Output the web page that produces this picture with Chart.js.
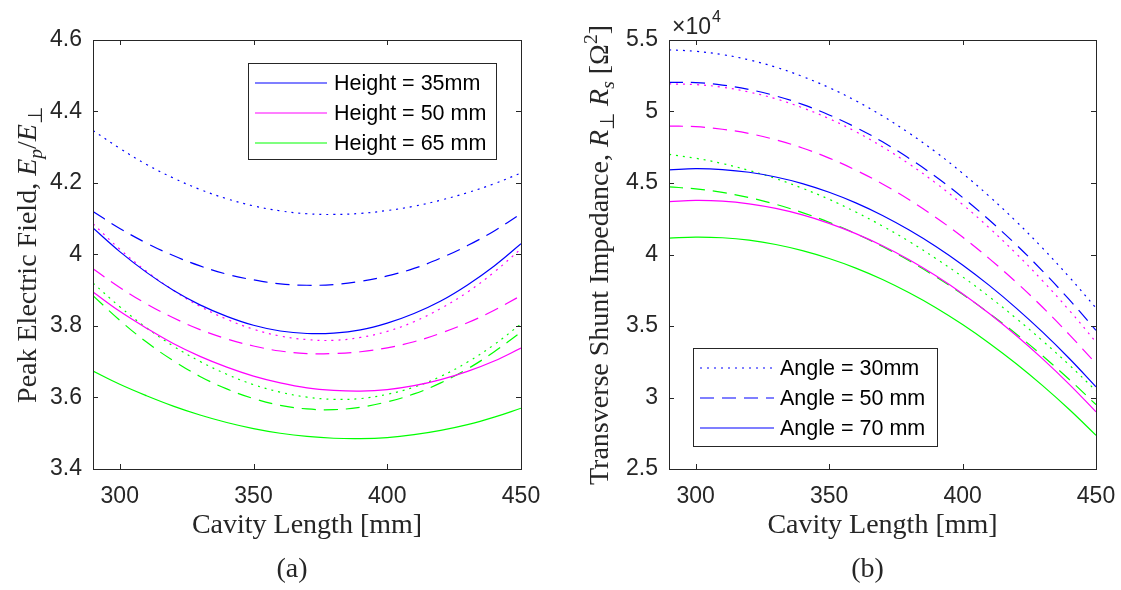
<!DOCTYPE html>
<html>
<head>
<meta charset="utf-8">
<script src="https://cdn.jsdelivr.net/npm/chart.js@4.4.1/dist/chart.umd.min.js"></script>
<style>
  html, body { margin: 0; padding: 0; background: #fff; }
  #wrap { position: relative; width: 1121px; height: 590px; overflow: hidden; }
  canvas { position: absolute; top: 0; }
  #chartA { left: 0; }
  #chartB { left: 560px; }
</style>
</head>
<body>
<div id="wrap">
  <canvas id="chartA" width="560" height="590"></canvas>
  <canvas id="chartB" width="600" height="590"></canvas>
</div>
<script>
const cavityLength = [290, 300, 310, 320, 330, 340, 350, 360, 370, 380, 390, 400, 410, 420, 430, 440, 450];
const lengthTicks = [300, 350, 400, 450];

// (a) peak electric field ratio Ep/E_perp
const fieldH35A30 = [4.347, 4.297, 4.252, 4.214, 4.182, 4.156, 4.136, 4.122, 4.114, 4.112, 4.115, 4.123, 4.135, 4.152, 4.173, 4.198, 4.228];
const fieldH35A50 = [4.120, 4.073, 4.032, 3.997, 3.968, 3.945, 3.929, 3.918, 3.914, 3.916, 3.925, 3.940, 3.961, 3.990, 4.025, 4.066, 4.114];
const fieldH35A70 = [4.074, 4.008, 3.950, 3.900, 3.859, 3.827, 3.802, 3.786, 3.779, 3.780, 3.789, 3.808, 3.835, 3.870, 3.915, 3.968, 4.030];
const fieldH50A30 = [4.086, 4.015, 3.953, 3.900, 3.855, 3.819, 3.791, 3.772, 3.762, 3.760, 3.768, 3.785, 3.812, 3.849, 3.895, 3.951, 4.016];
const fieldH50A50 = [3.960, 3.908, 3.862, 3.823, 3.790, 3.764, 3.744, 3.730, 3.723, 3.723, 3.728, 3.739, 3.756, 3.780, 3.809, 3.844, 3.885];
const fieldH50A70 = [3.895, 3.841, 3.794, 3.751, 3.715, 3.685, 3.660, 3.641, 3.627, 3.620, 3.618, 3.622, 3.633, 3.650, 3.673, 3.702, 3.738];
const fieldH65A30 = [3.920, 3.854, 3.795, 3.744, 3.701, 3.665, 3.636, 3.615, 3.601, 3.595, 3.597, 3.609, 3.629, 3.659, 3.699, 3.748, 3.806];
const fieldH65A50 = [3.885, 3.816, 3.755, 3.703, 3.659, 3.624, 3.597, 3.578, 3.568, 3.566, 3.573, 3.588, 3.610, 3.641, 3.680, 3.728, 3.783];
const fieldH65A70 = [3.674, 3.637, 3.605, 3.576, 3.551, 3.530, 3.513, 3.500, 3.491, 3.486, 3.485, 3.488, 3.496, 3.508, 3.524, 3.545, 3.570];
const fieldTicks = [3.4, 3.6, 3.8, 4, 4.2, 4.4, 4.6];

// (b) transverse shunt impedance R_perp*Rs in Ohm^2
const shuntH35A30 = [54310, 54210, 53980, 53610, 53100, 52450, 51670, 50750, 49690, 48490, 47160, 45680, 44070, 42330, 40440, 38420, 36260];
const shuntH35A50 = [52040, 52020, 51850, 51540, 51090, 50500, 49760, 48890, 47880, 46720, 45430, 43990, 42410, 40700, 38840, 36840, 34700];
const shuntH35A70 = [45920, 46000, 45940, 45750, 45420, 44960, 44350, 43610, 42730, 41710, 40560, 39270, 37840, 36270, 34570, 32730, 30750];
const shuntH50A30 = [51930, 51880, 51700, 51360, 50890, 50260, 49500, 48590, 47530, 46330, 44990, 43500, 41860, 40080, 38160, 36090, 33880];
const shuntH50A50 = [48980, 48940, 48760, 48460, 48020, 47450, 46740, 45900, 44930, 43830, 42590, 41220, 39710, 38080, 36310, 34400, 32370];
const shuntH50A70 = [43700, 43780, 43730, 43540, 43220, 42770, 42180, 41460, 40610, 39630, 38510, 37260, 35870, 34350, 32700, 30920, 29000];
const shuntH65A30 = [47000, 46730, 46360, 45880, 45310, 44630, 43860, 42970, 41990, 40910, 39720, 38440, 37050, 35550, 33960, 32270, 30470];
const shuntH65A50 = [44730, 44590, 44340, 43980, 43510, 42930, 42250, 41460, 40560, 39560, 38440, 37220, 35890, 34460, 32910, 31260, 29500];
const shuntH65A70 = [41140, 41220, 41170, 41000, 40700, 40270, 39720, 39050, 38250, 37320, 36280, 35100, 33800, 32380, 30830, 29160, 27360];
const shuntTicks = [25000, 30000, 35000, 40000, 45000, 50000, 55000];

const heightLabels = ['Height = 35mm', 'Height = 50 mm', 'Height = 65 mm'];
const angleLabels = ['Angle = 30mm', 'Angle = 50 mm', 'Angle = 70 mm'];

const lineColors = ['#0000ff', '#ff00ff', '#00ff00'];   // one per height
const lineDashes = [[2, 5], [14, 8], []];              // dotted, dashed, solid per angle
const AXIS = '#262626';
const SANS = '"Liberation Sans", Arial, sans-serif';
const SERIF = '"Liberation Serif", "Times New Roman", serif';

const fieldSeries = [
  [fieldH35A30, fieldH35A50, fieldH35A70],
  [fieldH50A30, fieldH50A50, fieldH50A70],
  [fieldH65A30, fieldH65A50, fieldH65A70]
];
const shuntSeries = [
  [shuntH35A30, shuntH35A50, shuntH35A70],
  [shuntH50A30, shuntH50A50, shuntH50A70],
  [shuntH65A30, shuntH65A50, shuntH65A70]
];

function buildDatasets(series) {
  const sets = [];
  series.forEach((byAngle, h) => {
    byAngle.forEach((values, a) => {
      sets.push({
        data: cavityLength.map((x, i) => ({ x: x, y: values[i] })),
        borderColor: lineColors[h],
        borderDash: lineDashes[a],
        borderWidth: 1.2,
        pointRadius: 0,
        tension: 0.4,
        fill: false
      });
    });
  });
  return sets;
}

function partFont(p, size) {
  const s = (p.sub || p.sup) ? size * 0.7 : size;
  return (p.i ? 'italic ' : '') + s + 'px ' + SERIF;
}

// mixed roman / italic / sub / superscript text, centred on (cx, baseline cy)
function drawRich(ctx, parts, size, cx, cy, rotate) {
  ctx.save();
  ctx.translate(cx, cy);
  if (rotate) ctx.rotate(-Math.PI / 2);
  ctx.fillStyle = AXIS;
  ctx.textAlign = 'left';
  ctx.textBaseline = 'alphabetic';
  let w = 0;
  parts.forEach(p => { ctx.font = partFont(p, size); w += ctx.measureText(p.t).width; });
  let x = -w / 2;
  parts.forEach(p => {
    ctx.font = partFont(p, size);
    const dy = p.sub ? size * 0.22 : (p.sup ? -size * 0.4 : 0);
    ctx.fillText(p.t, x, dy);
    x += ctx.measureText(p.t).width;
  });
  ctx.restore();
}

function decorPlugin(cfg) {
  return {
    id: 'decor',
    afterDraw(chart) {
      const ctx = chart.ctx;
      const a = chart.chartArea;
      const xs = chart.scales.x;
      const ys = chart.scales.y;
      ctx.save();

      // axes box with inward ticks on all sides
      ctx.strokeStyle = AXIS;
      ctx.lineWidth = 1;
      ctx.beginPath();
      lengthTicks.forEach(v => {
        const px = Math.round(xs.getPixelForValue(v)) + 0.5;
        ctx.moveTo(px, a.bottom); ctx.lineTo(px, a.bottom - 5);
        ctx.moveTo(px, a.top); ctx.lineTo(px, a.top + 5);
      });
      cfg.yTicks.forEach(v => {
        const py = Math.round(ys.getPixelForValue(v)) + 0.5;
        ctx.moveTo(a.left, py); ctx.lineTo(a.left + 5, py);
        ctx.moveTo(a.right, py); ctx.lineTo(a.right - 5, py);
      });
      ctx.stroke();
      ctx.strokeRect(Math.round(a.left) + 0.5, Math.round(a.top) + 0.5,
        Math.round(a.right - a.left), Math.round(a.bottom - a.top));

      // legend box
      const L = cfg.legend;
      const bx = a.left + L.dx, by = a.top + L.dy;
      ctx.fillStyle = '#fff';
      ctx.fillRect(bx, by, L.w, L.h);
      ctx.strokeRect(Math.round(bx) + 0.5, Math.round(by) + 0.5, L.w, L.h);
      L.labels.forEach((txt, i) => {
        const ry = by + 20 + i * 30;
        ctx.beginPath();
        ctx.strokeStyle = L.colors[i];
        ctx.lineWidth = 1.2;
        ctx.setLineDash(L.dashes[i]);
        ctx.moveTo(bx + 7, ry);
        ctx.lineTo(bx + L.lineEnd, ry);
        ctx.stroke();
        ctx.setLineDash([]);
        ctx.fillStyle = '#000';
        ctx.font = '21.5px ' + SANS;
        ctx.textAlign = 'left';
        ctx.textBaseline = 'middle';
        ctx.fillText(txt, bx + L.textX, ry + 1);
      });
      ctx.strokeStyle = AXIS;

      // axis titles and panel caption
      const mid = (a.left + a.right) / 2;
      drawRich(ctx, [{ t: 'Cavity Length [mm]' }], 28, mid, 533, false);
      drawRich(ctx, [{ t: cfg.caption }], 28, mid - 15, 577, false);
      drawRich(ctx, cfg.yTitle, 28, cfg.yTitleX, 255, true);

      if (cfg.exponent) {
        ctx.fillStyle = AXIS;
        ctx.textAlign = 'left';
        ctx.textBaseline = 'alphabetic';
        ctx.font = '23px ' + SANS;
        ctx.fillText('\u00d710', a.left + 3, 34);
        const w = ctx.measureText('\u00d710').width;
        ctx.font = '16px ' + SANS;
        ctx.fillText('4', a.left + 3 + w + 1, 22);
      }
      ctx.restore();
    }
  };
}

function makeChart(id, series, yMin, yMax, yTicks, yWidth, rightPad, tickLabel, cfg) {
  const font = { family: SANS, size: 23 };
  return new Chart(document.getElementById(id), {
    type: 'line',
    data: { datasets: buildDatasets(series) },
    options: {
      responsive: false,
      animation: false,
      events: [],
      layout: { padding: { left: 0, top: 40, right: rightPad, bottom: 81 } },
      plugins: { legend: { display: false }, tooltip: { enabled: false } },
      scales: {
        x: {
          type: 'linear', min: 290, max: 450,
          afterBuildTicks: s => { s.ticks = lengthTicks.map(v => ({ value: v })); },
          afterFit: s => { s.height = 40; },
          grid: { display: false, drawTicks: false },
          border: { display: false },
          ticks: { font: font, color: AXIS, padding: 14, maxRotation: 0, autoSkip: false,
                   callback: v => String(v) }
        },
        y: {
          type: 'linear', min: yMin, max: yMax,
          afterBuildTicks: s => { s.ticks = yTicks.map(v => ({ value: v })); },
          afterFit: s => { s.width = yWidth; },
          grid: { display: false, drawTicks: false },
          border: { display: false },
          ticks: { font: font, color: AXIS, padding: 11, autoSkip: false, callback: tickLabel }
        }
      }
    },
    plugins: [decorPlugin(cfg)]
  });
}

makeChart('chartA', fieldSeries, 3.4, 4.6, fieldTicks, 93, 39, v => String(v), {
  yTicks: fieldTicks,
  caption: '(a)',
  yTitleX: 36,
  yTitle: [
    { t: 'Peak Electric Field, ' },
    { t: 'E', i: true }, { t: 'p', i: true, sub: true },
    { t: '/' },
    { t: 'E', i: true }, { t: '\u22a5', sub: true }
  ],
  legend: {
    dx: 155, dy: 23, w: 248, h: 96, lineEnd: 79, textX: 86,
    labels: heightLabels,
    colors: lineColors,
    dashes: [[], [], []]
  }
});

// canvas is wider than the visible panel so the last tick label never squeezes the plot
makeChart('chartB', shuntSeries, 25000, 55000, shuntTicks, 109, 64, v => String(v / 1e4), {
  yTicks: shuntTicks,
  caption: '(b)',
  yTitleX: 48,
  exponent: true,
  yTitle: [
    { t: 'Transverse Shunt Impedance, ' },
    { t: 'R', i: true }, { t: '\u22a5', sub: true },
    { t: ' ' },
    { t: 'R', i: true }, { t: 's', i: true, sub: true },
    { t: ' [\u03a9' }, { t: '2', sup: true }, { t: ']' }
  ],
  legend: {
    dx: 24, dy: 308, w: 244, h: 98, lineEnd: 81, textX: 87,
    labels: angleLabels,
    colors: [lineColors[0], lineColors[0], lineColors[0]],
    dashes: lineDashes
  }
});
</script>
</body>
</html>
